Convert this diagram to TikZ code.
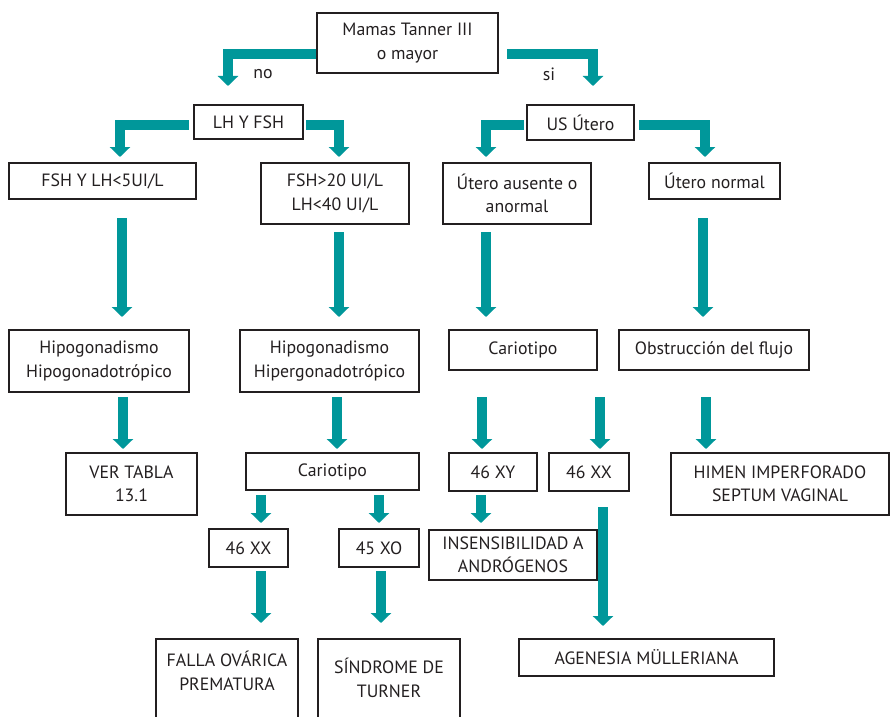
\documentclass[tikz,border=0pt]{standalone}
\usepackage{fontspec}
\setmainfont{PT Sans}
\usetikzlibrary{arrows.meta,calc}
\definecolor{teal2}{HTML}{00979A}
\definecolor{ink}{HTML}{231F20}
\begin{document}
\begin{tikzpicture}[x=1pt,y=-1pt,
  box/.style={draw=ink,line width=2.6pt,align=center,inner sep=0pt,
    font=\fontsize{17.8}{23.5}\selectfont,text=ink},
  txt/.style={align=center,inner sep=0pt,font=\fontsize{17.8}{23.5}\selectfont,text=ink},
  openbox/.style={draw=ink,line width=2.6pt},
  arr/.style={draw=teal2,line width=10pt,line join=miter,
    -{Triangle[width=20pt,length=10pt]}}]
\useasboundingbox (0,0) rectangle (892,717);

% nodes
\node[box,minimum width=181,minimum height=60] (mamas) at (407.5,43) {Mamas Tanner III\\o mayor};
\node[box,minimum width=109,minimum height=34] (lhfsh) at (248.5,122) {LH Y FSH};
\node[box,minimum width=107,minimum height=35] (us) at (580.5,122.5) {US Útero};
\node[box,minimum width=187,minimum height=36] (fshlo) at (102.5,181) {FSH Y LH<5UI/L};
\node[box,minimum width=148,minimum height=61] (fshhi) at (335,193.5) {FSH>20 UI/L\\LH<40 UI/L};
\node[box,minimum width=148,minimum height=61] (ausente) at (517,193.5) {Útero ausente o\\anormal};
\node[box,minimum width=131,minimum height=36] (normal) at (714.5,181) {Útero normal};
\node[box,minimum width=180,minimum height=62] (hipo) at (99,361) {Hipogonadismo\\Hipogonadotrópico};
\node[box,minimum width=179,minimum height=62] (hiper) at (329.5,361) {Hipogonadismo\\Hipergonadotrópico};
\node[box,minimum width=148,minimum height=40] (cariR) at (523,350) {Cariotipo};
\node[box,minimum width=190,minimum height=40] (obst) at (714,350) {Obstrucción del flujo};
\node[box,minimum width=131,minimum height=62] (tabla) at (131.5,484) {VER TABLA\\13.1};
\node[box,minimum width=173,minimum height=37] (cariL) at (332.5,471.5) {Cariotipo};
\node[box,minimum width=88,minimum height=38] (xy) at (493,472) {46 XY};
\node[box,minimum width=80,minimum height=38] (xxR) at (589,472) {46 XX};
\node[box,minimum width=218,minimum height=62] (himen) at (780,484) {HIMEN IMPERFORADO\\SEPTUM VAGINAL};
\node[box,minimum width=79,minimum height=38] (xxL) at (248.5,548) {46 XX};
\node[box,minimum width=80,minimum height=38] (xo) at (379,548) {45 XO};
\node[box,minimum width=168,minimum height=50] (insens) at (513,555) {INSENSIBILIDAD A\\ANDRÓGENOS};
\node[box,minimum width=255,minimum height=37] (agenesia) at (646.5,657.5) {AGENESIA MÜLLERIANA};
\node[txt] (falla) at (227,671) {FALLA OVÁRICA\\PREMATURA};
\node[txt] (turner) at (389,678) {SÍNDROME DE\\TURNER};
\draw[openbox] (156,720) |- (298,639) -- (298,720);
\draw[openbox] (318,720) |- (460,639) -- (460,720);

% labels
\node[txt] (no) at (263,74) {no};
\node[txt] (si) at (549,74) {si};

% elbow arrows
\coordinate (t1) at (228,86);
\coordinate (t2) at (593,86);
\draw[arr] (mamas.west |- 0,54) -| (t1);
\draw[arr] ($(mamas.east |- 0,54)+(8,0)$) -| (t2);
\coordinate (t3) at (120,157);
\coordinate (t4) at (339,157);
\coordinate (t5) at (486,157);
\coordinate (t6) at (705,157);
\draw[arr] ($(lhfsh.west |- 0,125)+(-4,0)$) -| (t3);
\draw[arr] ($(lhfsh.east |- 0,125)+(2,0)$) -| (t4);
\draw[arr] ($(us.west |- 0,125)+(-2,0)$) -| (t5);
\draw[arr] ($(us.east |- 0,125)+(4,0)$) -| (t6);

% straight arrows
\draw[arr] (122,218) -- (122,317);
\draw[arr] (123,397) -- (123,449);
\draw[arr] (339,232) -- (339,317);
\draw[arr] (337,397) -- (337,449);
\draw[arr] (486,232) -- (486,317);
\draw[arr] (703,218) -- (703,317);
\draw[arr] (482,397) -- (482,449);
\draw[arr] (600,397) -- (600,449);
\draw[arr] (706,397) -- (706,449);
\draw[arr] (261,495) -- (261,523);
\draw[arr] (379,495) -- (379,523);
\draw[arr] (481,495) -- (481,523);
\draw[arr] (261,571) -- (261,623);
\draw[arr] (381,571) -- (381,623);
\draw[arr] (603,507) -- (603,626);
\end{tikzpicture}
\end{document}
